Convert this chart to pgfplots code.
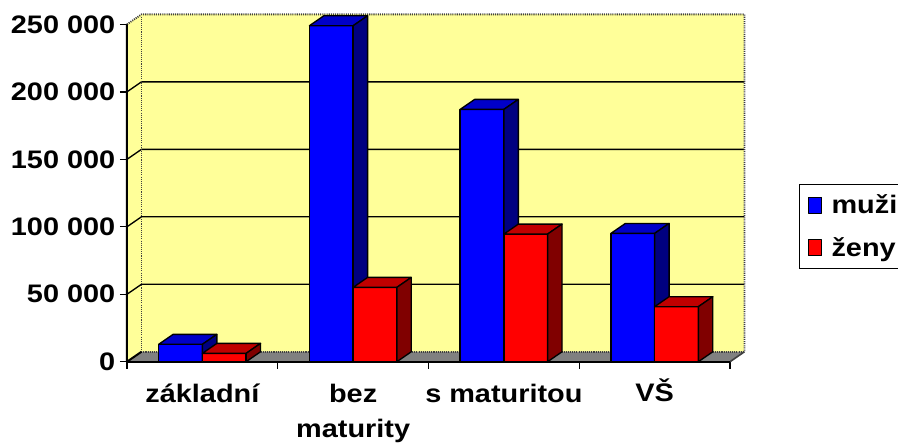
\documentclass[border=0pt]{standalone}
\usepackage{fontspec}
\setmainfont{Liberation Sans}[FakeStretch=1.14]
\usepackage{pgfplots}
\pgfplotsset{compat=1.18}
\definecolor{wall}{HTML}{FFFF99}
\definecolor{floorc}{HTML}{808080}
\definecolor{bfront}{HTML}{0000FF}
\definecolor{btop}{HTML}{0000C8}
\definecolor{bside}{HTML}{000080}
\definecolor{rfront}{HTML}{FF0000}
\definecolor{rtop}{HTML}{C00000}
\definecolor{rside}{HTML}{800000}
\newcommand\lblfont{\fontsize{19}{25.5}\selectfont\bfseries}
\begin{document}
\begin{tikzpicture}
\useasboundingbox (-95.25pt,-60.2pt) rectangle (578.25pt,271.3pt);
\begin{axis}[
  at={(0,0)}, anchor=origin,
  scale only axis, width=463.1pt, height=260.5pt,
  xmin=0, xmax=4.096, ymin=0, ymax=257400,
  axis x line*=bottom, axis y line*=left,
  axis line style={draw=none},
  clip=false, no markers,
  every axis plot/.append style={forget plot, line join=round},
  ytick={0,50000,100000,150000,200000,250000},
  yticklabels={0,50 000,100 000,150 000,200 000,250 000},
  xtick={0.5,1.5,2.5,3.5},
  xticklabels={základní,{bez\\[0.5pt]maturity},s maturitou,V\smash{Š}},
  minor xtick={0,1,2,3,4},
  tick align=outside,
  major tick length=5.25pt, minor tick length=5.25pt,
  tick style={black, line width=1pt},
  major x tick style={draw=none},
  scaled y ticks=false,
  tick label style={font=\lblfont},
  x tick label style={align=center, yshift=-8pt},
  legend style={at={(1.0883,0.5127)}, anchor=north west, draw=black, line width=1pt,
    font=\lblfont, row sep=12pt, inner xsep=6pt, inner ysep=6pt},
  legend cell align=left,
  legend image code/.code={\draw[#1, line width=0.8pt] (0pt,-6pt) rectangle (10pt,6pt); \path[draw=none,fill=none] (0pt,0pt) -- (15.5pt,0pt);},
]
% walls and floor
\addplot[fill=wall, draw=none] coordinates {(0,0) (0.096,7400) (0.096,257400) (0,250000)} -- cycle;
\addplot[fill=wall, draw=none] coordinates {(0.096,7400) (4.096,7400) (4.096,257400) (0.096,257400)} -- cycle;
\addplot[fill=floorc, draw=none] coordinates {(0,0) (4,0) (4.096,7400) (0.096,7400)} -- cycle;
% gridlines
\addplot[black, line width=1pt] coordinates {(0,50000) (0.096,57400) (4.096,57400)};
\addplot[black, line width=1pt] coordinates {(0,100000) (0.096,107400) (4.096,107400)};
\addplot[black, line width=1pt] coordinates {(0,150000) (0.096,157400) (4.096,157400)};
\addplot[black, line width=1pt] coordinates {(0,200000) (0.096,207400) (4.096,207400)};
% dotted borders
\addplot[black!75, line width=1.4pt, dash pattern=on 0.8pt off 0.8pt] coordinates {(0,250000) (0.096,257400) (4.096,257400) (4.096,7400)};
\addplot[black!75, line width=1.4pt, dash pattern=on 0.8pt off 0.8pt] coordinates {(0.096,257400) (0.096,7400) (4.096,7400)};
\addplot[black!75, line width=1.2pt] coordinates {(4,0) (4.096,7400)};
% axis lines
\addplot[black, line width=1.5pt] coordinates {(0.096,7400) (0,0) (0,250000)};
\addplot[black, line width=1.5pt] coordinates {(0,0) (4,0)};
% bars: základní
\addplot[fill=bfront, draw=black, line width=1pt] coordinates {(0.21,0) (0.50,0) (0.50,12900) (0.21,12900)} -- cycle;
\addplot[fill=btop, draw=black, line width=1pt] coordinates {(0.21,12900) (0.50,12900) (0.596,20300) (0.306,20300)} -- cycle;
\addplot[fill=bside, draw=black, line width=1pt] coordinates {(0.50,0) (0.596,7400) (0.596,20300) (0.50,12900)} -- cycle;
\addplot[fill=rfront, draw=black, line width=1pt] coordinates {(0.50,0) (0.79,0) (0.79,6200) (0.50,6200)} -- cycle;
\addplot[fill=rtop, draw=black, line width=1pt] coordinates {(0.50,6200) (0.79,6200) (0.886,13600) (0.596,13600)} -- cycle;
\addplot[fill=rside, draw=black, line width=1pt] coordinates {(0.79,0) (0.886,7400) (0.886,13600) (0.79,6200)} -- cycle;
% bez maturity
\addplot[fill=bfront, draw=black, line width=1pt] coordinates {(1.21,0) (1.50,0) (1.50,249000) (1.21,249000)} -- cycle;
\addplot[fill=btop, draw=black, line width=1pt] coordinates {(1.21,249000) (1.50,249000) (1.596,256400) (1.306,256400)} -- cycle;
\addplot[fill=bside, draw=black, line width=1pt] coordinates {(1.50,0) (1.596,7400) (1.596,256400) (1.50,249000)} -- cycle;
\addplot[fill=rfront, draw=black, line width=1pt] coordinates {(1.50,0) (1.79,0) (1.79,55100) (1.50,55100)} -- cycle;
\addplot[fill=rtop, draw=black, line width=1pt] coordinates {(1.50,55100) (1.79,55100) (1.886,62500) (1.596,62500)} -- cycle;
\addplot[fill=rside, draw=black, line width=1pt] coordinates {(1.79,0) (1.886,7400) (1.886,62500) (1.79,55100)} -- cycle;
% s maturitou
\addplot[fill=bfront, draw=black, line width=1pt] coordinates {(2.21,0) (2.50,0) (2.50,187000) (2.21,187000)} -- cycle;
\addplot[fill=btop, draw=black, line width=1pt] coordinates {(2.21,187000) (2.50,187000) (2.596,194400) (2.306,194400)} -- cycle;
\addplot[fill=bside, draw=black, line width=1pt] coordinates {(2.50,0) (2.596,7400) (2.596,194400) (2.50,187000)} -- cycle;
\addplot[fill=rfront, draw=black, line width=1pt] coordinates {(2.50,0) (2.79,0) (2.79,94600) (2.50,94600)} -- cycle;
\addplot[fill=rtop, draw=black, line width=1pt] coordinates {(2.50,94600) (2.79,94600) (2.886,102000) (2.596,102000)} -- cycle;
\addplot[fill=rside, draw=black, line width=1pt] coordinates {(2.79,0) (2.886,7400) (2.886,102000) (2.79,94600)} -- cycle;
% VŠ
\addplot[fill=bfront, draw=black, line width=1pt] coordinates {(3.21,0) (3.50,0) (3.50,95100) (3.21,95100)} -- cycle;
\addplot[fill=btop, draw=black, line width=1pt] coordinates {(3.21,95100) (3.50,95100) (3.596,102500) (3.306,102500)} -- cycle;
\addplot[fill=bside, draw=black, line width=1pt] coordinates {(3.50,0) (3.596,7400) (3.596,102500) (3.50,95100)} -- cycle;
\addplot[fill=rfront, draw=black, line width=1pt] coordinates {(3.50,0) (3.79,0) (3.79,40800) (3.50,40800)} -- cycle;
\addplot[fill=rtop, draw=black, line width=1pt] coordinates {(3.50,40800) (3.79,40800) (3.886,48200) (3.596,48200)} -- cycle;
\addplot[fill=rside, draw=black, line width=1pt] coordinates {(3.79,0) (3.886,7400) (3.886,48200) (3.79,40800)} -- cycle;
% legend
\addlegendimage{fill=bfront, draw=black}
\addlegendentry{muži}
\addlegendimage{fill=rfront, draw=black}
\addlegendentry{ženy}
\end{axis}
\end{tikzpicture}
\end{document}
